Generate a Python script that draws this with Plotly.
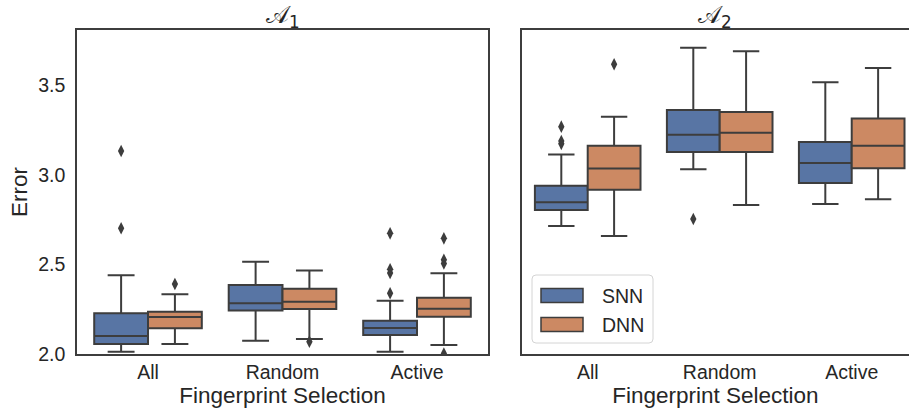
import plotly.graph_objects as go

categories = ["All", "Random", "Active"]
models = ["SNN", "DNN"]

# Panel A1 stats per model: [All, Random, Active]
a1_q1 = {"SNN": [2.056, 2.242, 2.106], "DNN": [2.143, 2.251, 2.208]}
a1_med = {"SNN": [2.100, 2.283, 2.145], "DNN": [2.206, 2.292, 2.253]}
a1_q3 = {"SNN": [2.227, 2.385, 2.186], "DNN": [2.236, 2.364, 2.314]}
a1_lo = {"SNN": [2.012, 2.074, 2.012], "DNN": [2.056, 2.084, 2.050]}
a1_hi = {"SNN": [2.439, 2.515, 2.297], "DNN": [2.333, 2.465, 2.450]}
a1_out = {
    "SNN": [[3.132, 2.701], [], [2.339, 2.452, 2.472, 2.673]],
    "DNN": [[2.390], [2.069], [2.645, 2.505, 2.525, 2.003]],
}

# Panel A2 stats
a2_q1 = {"SNN": [2.803, 3.127, 2.954], "DNN": [2.916, 3.127, 3.036]}
a2_med = {"SNN": [2.846, 3.223, 3.065], "DNN": [3.034, 3.234, 3.162]}
a2_q3 = {"SNN": [2.939, 3.361, 3.182], "DNN": [3.162, 3.350, 3.314]}
a2_lo = {"SNN": [2.714, 3.030, 2.837], "DNN": [2.658, 2.831, 2.863]}
a2_hi = {"SNN": [3.112, 3.708, 3.515], "DNN": [3.323, 3.688, 3.595]}
a2_out = {
    "SNN": [[3.268, 3.172, 3.188], [2.753], []],
    "DNN": [[3.616], [], []],
}

colors = {"SNN": "#5875A4", "DNN": "#CC8963"}
offsets = {"SNN": -0.2, "DNN": 0.2}
edge = "#3d3d3d"
text_color = "#262626"
font_family = "Liberation Sans, Arial, sans-serif"

fig = go.Figure()

panels = [
    ("x", "y", a1_q1, a1_med, a1_q3, a1_lo, a1_hi, a1_out),
    ("x2", "y2", a2_q1, a2_med, a2_q3, a2_lo, a2_hi, a2_out),
]

for xa, ya, q1, med, q3, lo, hi, out in panels:
    for m in models:
        xs = [i + offsets[m] for i in range(len(categories))]
        fig.add_trace(go.Box(
            x=xs, q1=q1[m], median=med[m], q3=q3[m],
            lowerfence=lo[m], upperfence=hi[m],
            width=0.4, whiskerwidth=0.5,
            fillcolor=colors[m], line=dict(color=edge, width=2),
            name=m, showlegend=False,
            xaxis=xa, yaxis=ya, hoverinfo="skip",
        ))
        ox, oy = [], []
        for i, vals in enumerate(out[m]):
            for v in vals:
                ox.append(i + offsets[m])
                oy.append(v)
        fig.add_trace(go.Scatter(
            x=ox, y=oy, mode="markers",
            marker=dict(symbol="diamond-tall", size=9, color=edge),
            showlegend=False, xaxis=xa, yaxis=ya, hoverinfo="skip",
        ))

axis_common = dict(
    showgrid=False, zeroline=False, showline=True, linecolor=edge, linewidth=1.5,
    ticks="", automargin=False,
    tickfont=dict(size=19.5, color=text_color, family=font_family),
)

# Legend drawn as a framed key in the right panel (lower left)
def px_x(p):
    return (p - 77) / 832

def px_y(p):
    return (354 - p) / 324

shapes = []
annotations = []
x0, x1, y0, y1, r = px_x(532), px_x(653), px_y(275), px_y(343), 4
rx, ry = r / 832, r / 324
path = (f"M {x0+rx},{y0} L {x1-rx},{y0} Q {x1},{y0} {x1},{y0-ry} "
        f"L {x1},{y1+ry} Q {x1},{y1} {x1-rx},{y1} L {x0+rx},{y1} "
        f"Q {x0},{y1} {x0},{y1+ry} L {x0},{y0-ry} Q {x0},{y0} {x0+rx},{y0} Z")
shapes.append(dict(type="path", xref="paper", yref="paper", path=path,
                   fillcolor="white", line=dict(color="#d4d4d4", width=1)))
for m, (ptop, pbot, tc) in zip(models, [(288.5, 302.5, 295.5), (317.5, 331.5, 324.5)]):
    shapes.append(dict(type="rect", xref="paper", yref="paper",
                       x0=px_x(541), x1=px_x(583), y0=px_y(pbot), y1=px_y(ptop),
                       fillcolor=colors[m], line=dict(color=edge, width=1.5)))
    annotations.append(dict(text=m, xref="paper", yref="paper", x=px_x(600), y=px_y(tc),
                            xanchor="left", yanchor="middle", showarrow=False,
                            font=dict(size=19.5, color=text_color, family=font_family)))

for xd, sub in [("x domain", "1"), ("x2 domain", "2")]:
    annotations.append(dict(text=f"𝒜<sub>{sub}</sub>", xref=xd, yref="paper", x=0.5, y=1.0,
                            xanchor="center", yanchor="bottom", yshift=-4, showarrow=False,
                            font=dict(size=24, color=text_color, family="DejaVu Sans")))

fig.update_layout(
    width=909, height=412,
    margin=dict(l=77, r=0, t=30, b=58),
    paper_bgcolor="white", plot_bgcolor="white",
    font=dict(family=font_family, color=text_color),
    showlegend=False,
    xaxis=dict(domain=[0, 0.494], range=[-0.528, 2.528], mirror=True,
               tickvals=[0, 1, 2], ticktext=categories,
               title=dict(text="Fingerprint Selection", font=dict(size=22.5), standoff=2),
               **axis_common),
    yaxis=dict(range=[2.0, 3.807], mirror=True, tickvals=[2.0, 2.5, 3.0, 3.5],
               ticktext=["2.0", "2.5", "3.0", "3.5"], ticklabelstandoff=6,
               title=dict(text="Error", font=dict(size=22.5), standoff=4),
               **axis_common),
    xaxis2=dict(domain=[0.5345, 1], range=[-0.5, 2.434], mirror=True, anchor="y2",
                tickvals=[0, 1, 2], ticktext=categories,
                title=dict(text="Fingerprint Selection", font=dict(size=22.5), standoff=2),
                **axis_common),
    yaxis2=dict(range=[2.0, 3.807], mirror=False, anchor="x2", showticklabels=False,
                matches="y", **axis_common),
    shapes=shapes,
    annotations=annotations,
)

fig.write_html(
    "out.html",
    config={"displayModeBar": False},
    post_script="document.body.style.margin='0';document.body.style.overflow='hidden';",
)
